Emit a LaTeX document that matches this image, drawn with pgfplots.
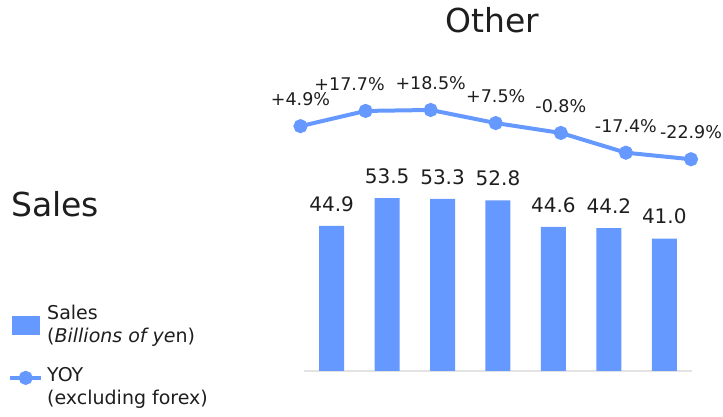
\documentclass[border=0pt]{standalone}
\usepackage{pgfplots}
\pgfplotsset{compat=1.18}
\usepackage{fontspec}
\setmainfont{DejaVu Sans}
\definecolor{barblue}{HTML}{6699FF}
\definecolor{txt}{HTML}{1E1E1E}
\definecolor{baseline}{HTML}{E3E3E3}

\pgfplotstableread{
x y label
0 44.9 44.9
1 53.5 53.5
2 53.3 53.3
3 52.8 52.8
4 44.6 44.6
5 44.2 44.2
6 41.0 41.0
}\sales

\pgfplotstableread{
x y label dx
0 4.9 +4.9\% 0
1 17.7 +17.7\% -16
2 18.5 +18.5\% 0
3 7.5 +7.5\% 0
4 -0.8 -0.8\% 0
5 -17.4 -17.4\% 0
6 -22.9 -22.9\% 0
}\yoy

\begin{document}
\begin{tikzpicture}
\useasboundingbox (0pt,0pt) rectangle (723pt,417pt);
\node[font=\fontsize{33}{38}\selectfont, text=txt] at (492.5pt,397pt) {Other};
\node[anchor=west, font=\fontsize{33}{38}\selectfont, inner sep=0pt, text=txt] at (11pt,213pt) {Sales};

\begin{axis}[
  at={(304pt,46pt)}, anchor=south west,
  scale only axis, width=388pt, height=200pt,
  xmin=-0.5, xmax=6.5, ymin=0, ymax=61.92,
  axis x line*=bottom, axis y line=none,
  xtick=\empty, ytick=\empty,
  x axis line style={draw=baseline, line width=2pt},
  clip=false,
  legend style={at={(-0.7629,0.3475)}, anchor=north west, draw=none, fill=none,
    inner sep=0pt, column sep=2pt, row sep=29pt,
    font=\fontsize{19}{23}\selectfont, text=txt,
    cells={anchor=base west, inner sep=0pt}},
]
\addplot[ybar, bar width=25pt, fill=barblue, draw=none,
  nodes near coords, point meta=explicit symbolic,
  every node near coord/.append style={font=\fontsize{20}{24}\selectfont, text=txt, anchor=center, yshift=22pt},
  legend image code/.code={\fill[barblue] (2pt,-15pt) rectangle (30pt,4pt);}]
  table[x=x, y=y, meta=label] {\sales};
\addlegendentry{\begin{tabular}[t]{@{}l@{}}Sales\\(\textit{Billions of ye}n)\end{tabular}}
\addlegendimage{barblue, line width=4pt,
  legend image code/.code={\draw[barblue, line width=4pt] (0pt,4pt) -- (31pt,4pt); \fill[barblue] (15.5pt,4pt) circle (5pt);}}
\addlegendentry{\begin{tabular}[t]{@{}l@{}}YOY\\(excluding forex)\end{tabular}}
\end{axis}

\begin{axis}[
  at={(300.5pt,237.4pt)}, anchor=south west,
  scale only axis, width=390.5pt, height=95.2pt,
  xmin=0, xmax=6, ymin=-40, ymax=40,
  hide axis, clip=false,
]
\addplot[barblue, line width=4pt, mark=*, mark size=5pt, mark options={draw=none, fill=barblue},
  nodes near coords, point meta=explicit symbolic,
  visualization depends on={\thisrow{dx} \as \dx},
  every node near coord/.append style={font=\fontsize{17.5}{22}\selectfont, text=txt, anchor=center, yshift=27pt, xshift=\dx pt}]
  table[x=x, y=y, meta=label] {\yoy};
\end{axis}
\end{tikzpicture}
\end{document}
